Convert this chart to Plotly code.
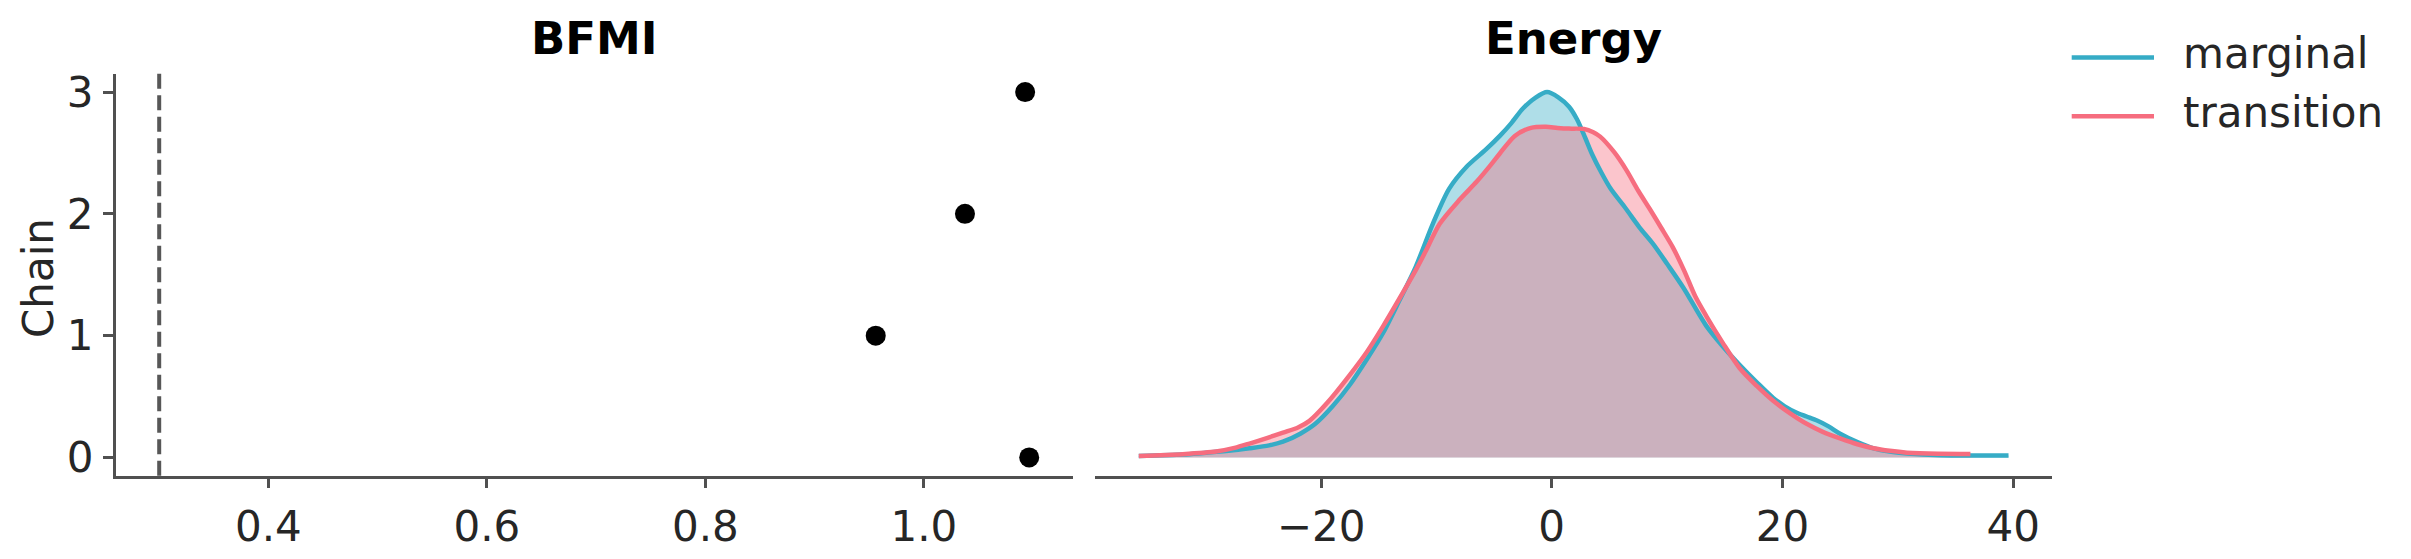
import plotly.graph_objects as go

# ---------------- data ----------------
chains = [0, 1, 2, 3]
bfmi_values = [1.0965, 0.956, 1.0377, 1.0928]
bfmi_threshold = [0.3]

# Energy KDE (density scaled so that the marginal peak = 1)
marginal_x = [-35.8, -32.0, -30.6, -28.0, -26.2, -24.5, -23.3, -21.8, -20.5, -19.0,
              -17.5, -16.0, -14.6, -13.2, -11.8, -10.3, -8.9, -7.4, -5.7, -4.5,
              -3.5, -2.5, -1.4, -0.4, 0.6, 1.5, 2.2, 2.9, 3.5, 4.3,
              5.1, 6.4, 7.6, 8.8, 10.0, 11.4, 13.4, 14.8, 16.3, 17.8,
              19.2, 20.2, 21.2, 22.1, 23.0, 24.0, 25.0, 26.5, 27.9, 29.3,
              30.8, 33.7, 36.5, 39.6]
marginal_density = [0.004, 0.008, 0.011, 0.018, 0.025, 0.033, 0.043, 0.065, 0.092, 0.140,
                    0.199, 0.270, 0.342, 0.430, 0.521, 0.640, 0.735, 0.795, 0.843, 0.880,
                    0.915, 0.955, 0.985, 1.000, 0.985, 0.960, 0.925, 0.875, 0.830, 0.780,
                    0.736, 0.682, 0.630, 0.584, 0.530, 0.465, 0.360, 0.305, 0.253, 0.205,
                    0.163, 0.140, 0.123, 0.112, 0.101, 0.085, 0.065, 0.042, 0.025, 0.016,
                    0.011, 0.006, 0.005, 0.005]

transition_x = [-35.8, -32.0, -29.1, -27.5, -26.2, -24.7, -23.3, -22.0, -21.0, -19.5,
                -17.5, -16.0, -14.6, -13.2, -11.8, -11.0, -9.7, -8.0, -6.5, -5.3,
                -4.5, -3.2, -1.8, -0.5, 0.5, 1.5, 2.8, 3.6, 4.2, 5.45,
                6.5, 7.5, 8.5, 9.5, 10.5, 11.5, 12.44, 13.4, 14.8, 16.3,
                17.8, 19.2, 20.7, 22.1, 23.5, 25.0, 26.5, 27.9, 29.3, 30.8,
                33.5, 36.3]
transition_density = [0.004, 0.009, 0.016, 0.026, 0.038, 0.053, 0.068, 0.082, 0.100, 0.148,
                      0.226, 0.290, 0.360, 0.435, 0.512, 0.560, 0.640, 0.705, 0.755, 0.800,
                      0.832, 0.880, 0.902, 0.905, 0.902, 0.900, 0.899, 0.890, 0.878, 0.834,
                      0.785, 0.730, 0.680, 0.628, 0.575, 0.510, 0.441, 0.387, 0.315, 0.244,
                      0.195, 0.155, 0.120, 0.092, 0.070, 0.052, 0.036, 0.025, 0.018, 0.013,
                      0.010, 0.0097]

series_names = ["marginal", "transition"]
series_colors = ["#36acc6", "#f66d7f"]
series_fills = ["rgba(54,172,198,0.4)", "rgba(246,109,127,0.4)"]

bfmi_ticks = [0.4, 0.6, 0.8, 1.0]
bfmi_ticktext = ["0.4", "0.6", "0.8", "1.0"]
energy_ticks = [-20, 0, 20, 40]
energy_ticktext = ["\u221220", "0", "20", "40"]

# ---------------- layout helpers ----------------
W, H = 2411, 559
FONT = "DejaVu Sans"
TXT = "#262626"
SPINE = "#505050"
FS = 42


def px_x(p):
    return p / W


def px_y(p):
    return 1 - p / H


def padded(lo, hi, frac=0.05):
    s = hi - lo
    return [lo - frac * s, hi + frac * s]


fig = go.Figure()

# BFMI points
fig.add_trace(go.Scatter(
    x=bfmi_values, y=chains, mode="markers",
    marker=dict(color="black", size=20),
    xaxis="x", yaxis="y", showlegend=False, hoverinfo="x+y"))

# threshold line
fig.add_shape(type="line", xref="x", yref="y domain",
              x0=bfmi_threshold[0], x1=bfmi_threshold[0], y0=0, y1=1,
              line=dict(color="#575757", width=4, dash="15px,6.5px"))

kdes = [(marginal_x, marginal_density), (transition_x, transition_density)]

# Energy KDE fills first
for (xs, ys), name, fc in zip(kdes, series_names, series_fills):
    fig.add_trace(go.Scatter(
        x=xs, y=ys, mode="lines", name=name,
        line=dict(width=0, shape="spline", smoothing=0.8),
        fill="tozeroy", fillcolor=fc,
        xaxis="x2", yaxis="y2", showlegend=False, hoverinfo="skip"))

# then the outlines on top
for (xs, ys), name, col in zip(kdes, series_names, series_colors):
    fig.add_trace(go.Scatter(
        x=xs, y=ys, mode="lines", name=name,
        line=dict(color=col, width=4.5, shape="spline", smoothing=0.8),
        xaxis="x2", yaxis="y2", showlegend=False))

x1_range = padded(min(bfmi_threshold + bfmi_values), max(bfmi_threshold + bfmi_values))
y1_range = padded(min(chains), max(chains))
x2_range = padded(min(marginal_x + transition_x), max(marginal_x + transition_x))
peak = max(marginal_density + transition_density)
y2_range = [-0.05 * peak, 1.05 * peak]

y_dom = [px_y(480), px_y(69.3)]

axis_common = dict(showgrid=False, zeroline=False, showline=True, linecolor=SPINE,
                   linewidth=2.5, ticks="outside", ticklen=10, tickwidth=2.5,
                   tickcolor=SPINE, tickfont=dict(family=FONT, size=FS, color=TXT))

fig.update_layout(
    width=W, height=H,
    margin=dict(l=0, r=0, t=0, b=0),
    paper_bgcolor="white", plot_bgcolor="white",
    font=dict(family=FONT, size=FS, color=TXT),
    xaxis=dict(domain=[px_x(115.7), px_x(1072.7)], range=x1_range,
               tickvals=bfmi_ticks, ticktext=bfmi_ticktext, anchor="y",
               ticklabelstandoff=2, **axis_common),
    yaxis=dict(domain=y_dom, range=y1_range, tickvals=chains,
               ticktext=[str(c) for c in chains], anchor="x",
               ticklabelstandoff=1, **axis_common),
    xaxis2=dict(domain=[px_x(1095.3), px_x(2052)], range=x2_range,
                tickvals=energy_ticks, ticktext=energy_ticktext, anchor="y2",
                ticklabelstandoff=2, **axis_common),
    yaxis2=dict(domain=y_dom, range=y2_range, anchor="x2", visible=False),
    showlegend=False,
)

annotations = [
    dict(text="<b>BFMI</b>", x=px_x(594), y=px_y(33), xref="paper", yref="paper",
         xanchor="center", yanchor="middle", showarrow=False,
         font=dict(family=FONT, size=45, color="black")),
    dict(text="<b>Energy</b>", x=px_x(1573.7), y=px_y(33), xref="paper", yref="paper",
         xanchor="center", yanchor="middle", showarrow=False,
         font=dict(family=FONT, size=45, color="black")),
    dict(text="Chain", x=px_x(38), y=px_y(278), xref="paper", yref="paper",
         xanchor="center", yanchor="middle", textangle=-90, showarrow=False,
         font=dict(family=FONT, size=FS, color=TXT)),
]

# legend (manual, matching the reference's long handles)
leg_y = [52.7, 112.7]
for i, name in enumerate(series_names):
    fig.add_shape(type="line", xref="paper", yref="paper",
                  x0=px_x(2071.7), x1=px_x(2154), y0=px_y(leg_y[i]), y1=px_y(leg_y[i]),
                  line=dict(color=series_colors[i], width=4.5))
    annotations.append(dict(text=name, x=px_x(2181), y=px_y(leg_y[i] - 4), xref="paper",
                            yref="paper", xanchor="left", yanchor="middle",
                            showarrow=False, font=dict(family=FONT, size=FS, color=TXT)))

fig.update_layout(annotations=annotations)

fig.write_html("out.html")
